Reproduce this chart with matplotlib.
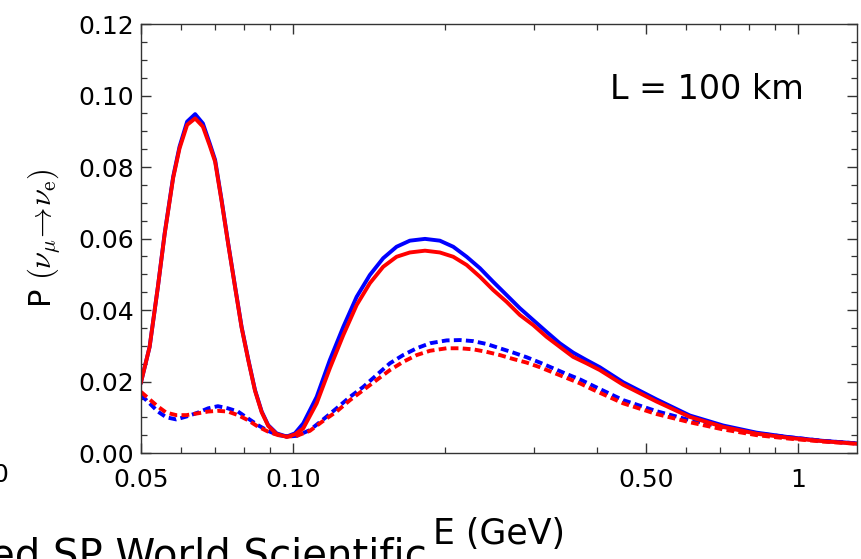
import matplotlib
matplotlib.use('Agg')
matplotlib.rcParams.update({
    'font.family': 'DejaVu Sans',
    'mathtext.fontset': 'cm',
    'xtick.direction': 'in',
    'ytick.direction': 'in',
})
import matplotlib.pyplot as plt
from matplotlib.ticker import FixedLocator, NullFormatter

# Energy grid (GeV) for the solid curves
E_solid = [0.0500, 0.0520, 0.0540, 0.0557, 0.0579, 0.0596, 0.0617, 0.0640, 0.0663,
           0.0684, 0.0701, 0.0722, 0.0744, 0.0768, 0.0791, 0.0816, 0.0841, 0.0867,
           0.0893, 0.0928, 0.0972, 0.1009, 0.1048, 0.1114, 0.1183, 0.1258, 0.1337,
           0.1420, 0.1509, 0.1604, 0.1704, 0.1826, 0.1954, 0.2077, 0.2208, 0.2346,
           0.2492, 0.2649, 0.2815, 0.2991, 0.3179, 0.3377, 0.3588, 0.3814, 0.4053,
           0.4508, 0.5250, 0.6110, 0.7113, 0.8282, 0.9640, 1.1222, 1.3069]
P_blue_solid = [0.0198, 0.0297, 0.0465, 0.0615, 0.0773, 0.0857, 0.0927, 0.0948, 0.0922,
                0.0866, 0.0820, 0.0708, 0.0587, 0.0465, 0.0353, 0.0260, 0.0176, 0.0116,
                0.0078, 0.0055, 0.0046, 0.0055, 0.0083, 0.0157, 0.0260, 0.0353, 0.0437,
                0.0498, 0.0545, 0.0577, 0.0594, 0.0599, 0.0594, 0.0577, 0.0549, 0.0517,
                0.0479, 0.0442, 0.0405, 0.0372, 0.0339, 0.0307, 0.0281, 0.0260, 0.0240,
                0.0198, 0.0150, 0.0105, 0.0077, 0.0057, 0.0044, 0.0034, 0.0027]
P_red_solid = [0.0198, 0.0297, 0.0465, 0.0613, 0.0770, 0.0852, 0.0918, 0.0936, 0.0913,
               0.0860, 0.0815, 0.0705, 0.0585, 0.0463, 0.0351, 0.0258, 0.0174, 0.0114,
               0.0076, 0.0053, 0.0045, 0.0052, 0.0069, 0.0139, 0.0237, 0.0330, 0.0414,
               0.0475, 0.0521, 0.0549, 0.0561, 0.0566, 0.0561, 0.0549, 0.0526, 0.0493,
               0.0456, 0.0423, 0.0386, 0.0358, 0.0325, 0.0297, 0.0269, 0.0251, 0.0232,
               0.0191, 0.0144, 0.0101, 0.0073, 0.0054, 0.0042, 0.0033, 0.0026]

# Energy grid (GeV) for the dashed curves
E_dash = [0.0500, 0.0520, 0.0540, 0.0561, 0.0587, 0.0615, 0.0648, 0.0679, 0.0710,
          0.0743, 0.0778, 0.0814, 0.0852, 0.0892, 0.0934, 0.0977, 0.1017, 0.1080,
          0.1148, 0.1220, 0.1297, 0.1378, 0.1464, 0.1556, 0.1653, 0.1758, 0.1868,
          0.2015, 0.2141, 0.2275, 0.2418, 0.2569, 0.2730, 0.2902, 0.3084, 0.3277,
          0.3483, 0.3701, 0.3932, 0.4508, 0.5250, 0.6110, 0.7113, 0.8282, 0.9640,
          1.1222, 1.3069]
P_blue_dash = [0.0162, 0.0139, 0.0116, 0.0100, 0.0094, 0.0102, 0.0113, 0.0125, 0.0131,
               0.0125, 0.0116, 0.0097, 0.0078, 0.0062, 0.0050, 0.0046, 0.0048, 0.0064,
               0.0094, 0.0125, 0.0157, 0.0185, 0.0218, 0.0251, 0.0274, 0.0293, 0.0307,
               0.0315, 0.0316, 0.0313, 0.0305, 0.0293, 0.0281, 0.0268, 0.0253, 0.0237,
               0.0221, 0.0206, 0.0188, 0.0148, 0.0117, 0.0092, 0.0072, 0.0055, 0.0044,
               0.0034, 0.0027]
P_red_dash = [0.0171, 0.0150, 0.0130, 0.0113, 0.0106, 0.0106, 0.0111, 0.0116, 0.0118,
              0.0116, 0.0106, 0.0092, 0.0074, 0.0060, 0.0050, 0.0046, 0.0048, 0.0062,
              0.0090, 0.0116, 0.0148, 0.0176, 0.0204, 0.0232, 0.0255, 0.0274, 0.0286,
              0.0293, 0.0293, 0.0290, 0.0283, 0.0274, 0.0263, 0.0253, 0.0240, 0.0225,
              0.0210, 0.0195, 0.0177, 0.0139, 0.0109, 0.0086, 0.0066, 0.0050, 0.0040,
              0.0032, 0.0026]

x_major = [0.05, 0.10, 0.50, 1.0]
x_major_labels = ['0.05', '0.10', '0.50', '1']
x_minor = [0.06, 0.07, 0.08, 0.09, 0.2, 0.3, 0.4, 0.6, 0.7, 0.8, 0.9]
y_major = [0.00, 0.02, 0.04, 0.06, 0.08, 0.10, 0.12]

BLUE, RED = '#0000ff', '#ff0000'
LW = 2.8

fig = plt.figure(figsize=(8.62, 5.59), dpi=100)
ax = fig.add_axes([0.1636, 0.1896, 0.8306, 0.7674])

ax.plot(E_dash, P_blue_dash, color=BLUE, lw=LW, dashes=(2.0, 1.1))
ax.plot(E_dash, P_red_dash, color=RED, lw=LW, dashes=(2.0, 1.1))
ax.plot(E_solid, P_blue_solid, color=BLUE, lw=LW, solid_joinstyle='round')
ax.plot(E_solid, P_red_solid, color=RED, lw=LW, solid_joinstyle='round')

ax.set_xscale('log')
ax.set_xlim(0.05, 1.31)
ax.set_ylim(0.0, 0.12)

ax.xaxis.set_major_locator(FixedLocator(x_major))
ax.set_xticklabels(x_major_labels)
ax.xaxis.set_minor_locator(FixedLocator(x_minor))
ax.xaxis.set_minor_formatter(NullFormatter())
ax.set_yticks(y_major)
ax.set_yticklabels([f'{v:.2f}' for v in y_major])
ax.yaxis.set_minor_locator(FixedLocator([i * 0.005 for i in range(25)]))

for sp in ax.spines.values():
    sp.set_color('#333333')
    sp.set_linewidth(1.0)
ax.tick_params(which='both', top=True, right=True, color='#333333')
ax.tick_params(which='major', length=7, width=1.0)
ax.tick_params(which='minor', length=4.5, width=0.9)
ax.tick_params(axis='x', which='major', labelsize=18, pad=11)
ax.tick_params(axis='y', which='major', labelsize=18, pad=5)

ax.set_xlabel('E (GeV)', fontsize=25, labelpad=18)
ax.set_ylabel(r'P $(\nu_\mu\!\rightarrow\!\nu_{\mathrm{e}})$', fontsize=22, labelpad=12)

ax.text(0.79, 0.848, 'L = 100 km', transform=ax.transAxes, fontsize=24,
        ha='center', va='center')

# cut-off fragments at the image border
fig.text(0.0006, 0.172, '0', fontsize=18, ha='center', va='top')
fig.text(-0.012, 0.040, 'ed SP World Scientific', fontsize=29, ha='left', va='top')

fig.savefig('out.png', dpi=100)
